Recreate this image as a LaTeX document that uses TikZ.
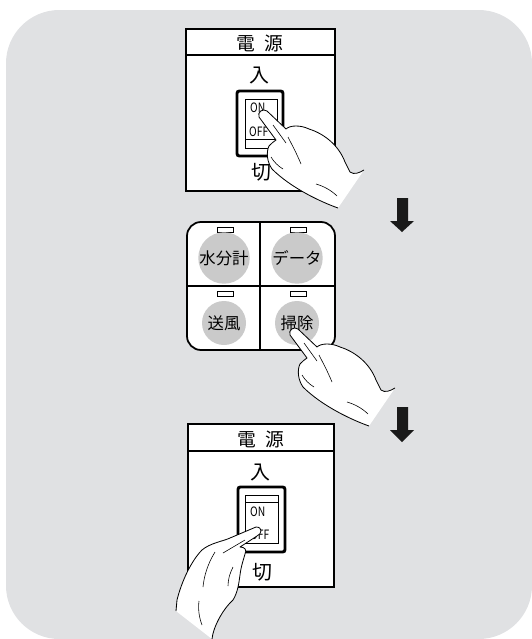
\documentclass[tikz,border=0pt]{standalone}
\usepackage{graphicx}
\usepackage{fontspec}
\setmainfont{Noto Sans CJK JP}
\usetikzlibrary{positioning}
\definecolor{bggray}{RGB}{224,225,227}
\definecolor{btngray}{RGB}{202,202,202}

% hand coming in from the lower right, fingertip at the origin
\tikzset{pics/hand/.style={code={
  \draw[fill=white,line width=0.7pt,line join=round]
    (77,96) .. controls (60,90) and (30,76) .. (11,57)
    .. controls (6,50) and (5,40) .. (8,34)
    .. controls (10,31) and (13,30) .. (15,28)
    -- (-2,5) .. controls (-4,0) and (2,-4) .. (6,-1)
    -- (25,17) .. controls (29,13) and (40,13) .. (48,17)
    .. controls (64,22) and (78,34) .. (84,50)
    -- (89,60) .. controls (93,63) and (98,61) .. (103,58);
  \draw[line width=0.5pt] (12,13) -- (25,31);
  \draw[line width=0.5pt] (27,25) .. controls (31,33) and (35,40) .. (40,52);
  \draw[line width=0.5pt] (10,45) .. controls (13,50) and (17,54) .. (22,57);
  \draw[line width=0.5pt] (55,72) .. controls (62,74) and (70,78) .. (76,84);
}}}
% hand coming in from the lower left
\tikzset{pics/left hand/.style={code={
  \draw[fill=white,line width=0.7pt,line join=round]
    (-47,108) .. controls (-46,97) and (-37,79) .. (-26,69)
    .. controls (-21,61) and (-20,51) .. (-19,44)
    .. controls (-18,35) and (-15,27) .. (-14,23)
    .. controls (-12,19) and (-14,16) .. (-19,16)
    -- (-2,5) .. controls (3,3) and (4,-4) .. (-3,-4)
    -- (-29,7) .. controls (-35,10) and (-49,12) .. (-57,19)
    .. controls (-67,29) and (-77,49) .. (-82,69)
    -- (-83,80);
  \draw[line width=0.5pt] (-14,9) -- (-36,22);
  \draw[line width=0.5pt] (-44,21) .. controls (-52,34) and (-55,46) .. (-56,56);
  \draw[line width=0.5pt] (-26,36) .. controls (-29,42) and (-31,48) .. (-31,55);
  \draw[line width=0.5pt] (-60,70) .. controls (-61,78) and (-60,86) .. (-57,94);
}}}

\begin{document}
\begin{tikzpicture}[x=0.03cm,y=-0.03cm,
  panel/.style={draw,line width=1.3pt,fill=white},
  big node/.style={font=\fontsize{16}{16}\selectfont,inner sep=0pt},
  mark node/.style={font=\fontsize{17}{17}\selectfont,inner sep=0pt},
  small node/.style={font=\fontsize{11}{11}\selectfont,inner sep=0pt,anchor=west},
  button/.style={circle,fill=btngray,minimum size=1.32cm,inner sep=0pt,
    font=\fontsize{14}{14}\selectfont},
  led/.style={draw,line width=0.6pt,fill=white},
  down arrow/.style={fill=black!90}]
  \useasboundingbox (0,0) rectangle (532,639);
  \fill[bggray,rounded corners=1.6cm] (6,10) rectangle (532,639);

  % power switch, turned on
  \draw[panel] (186,29) rectangle (335,191);
  \draw[line width=1.3pt] (186,55) -- (335,55);
  \node[big node]  (tophead) at (260,43)  {電\hspace{0.5em}源};
  \node[mark node] (topin)   at (259,76)  {入};
  \node[mark node] (topcut)  at (261,172) {切};
  \draw[line width=2.5pt,rounded corners=2pt] (237,91) rectangle (283,156);
  \draw[line width=0.7pt] (245,99) rectangle (277,148);
  \draw[line width=0.7pt] (245,139) -- (277,139);
  \node[small node] (topon)  at (250,108) {\scalebox{0.8}[1]{ON}};
  \node[small node] (topoff) at (249,132) {\scalebox{0.8}[1]{OFF}};
  \pic at (261,112) {hand};

  \fill[down arrow] (397,198) -- (408,198) -- (408,221) -- (414,221)
    -- (402,232) -- (390,221) -- (397,221) -- cycle;

  % operation buttons
  \draw[line width=1.5pt,rounded corners=0.42cm,fill=white] (187,222) rectangle (335,350);
  \draw[line width=1.3pt] (260,222) -- (260,350);
  \draw[line width=1.3pt] (187,286) -- (335,286);
  \draw[led] (217,227) rectangle (233,232);
  \draw[led] (290,227) rectangle (306,232);
  \draw[led] (217,291) rectangle (233,296);
  \draw[led] (290,291) rectangle (306,296);
  \node[button] (water) at (224,258) {水分計};
  \node[button] (data)  at (297,258) {データ};
  \node[button] (fan)   at (224,323) {送風};
  \node[button] (clean) at (297,323) {掃除};
  \pic at (292,330) {hand};

  \fill[down arrow] (397,407) -- (408,407) -- (408,430) -- (414,430)
    -- (402,442) -- (390,430) -- (397,430) -- cycle;

  % power switch, turned off
  \draw[panel] (188,424) rectangle (334,587);
  \draw[line width=1.3pt] (188,451) -- (334,451);
  \node[big node]  (bothead) at (261,439) {電\hspace{0.5em}源};
  \node[mark node] (botin)   at (260,473) {入};
  \node[mark node] (botcut)  at (262,572) {切};
  \draw[line width=2.5pt,rounded corners=2pt] (238,487) rectangle (285,552);
  \draw[line width=0.7pt] (245,495) rectangle (278,543);
  \draw[line width=0.7pt] (245,502) -- (278,502);
  \node[small node] (boton)  at (250,512) {\scalebox{0.8}[1]{ON}};
  \node[small node] (botoff) at (250,535) {\scalebox{0.8}[1]{OFF}};
  \pic at (259,531) {left hand};
\end{tikzpicture}
\end{document}
